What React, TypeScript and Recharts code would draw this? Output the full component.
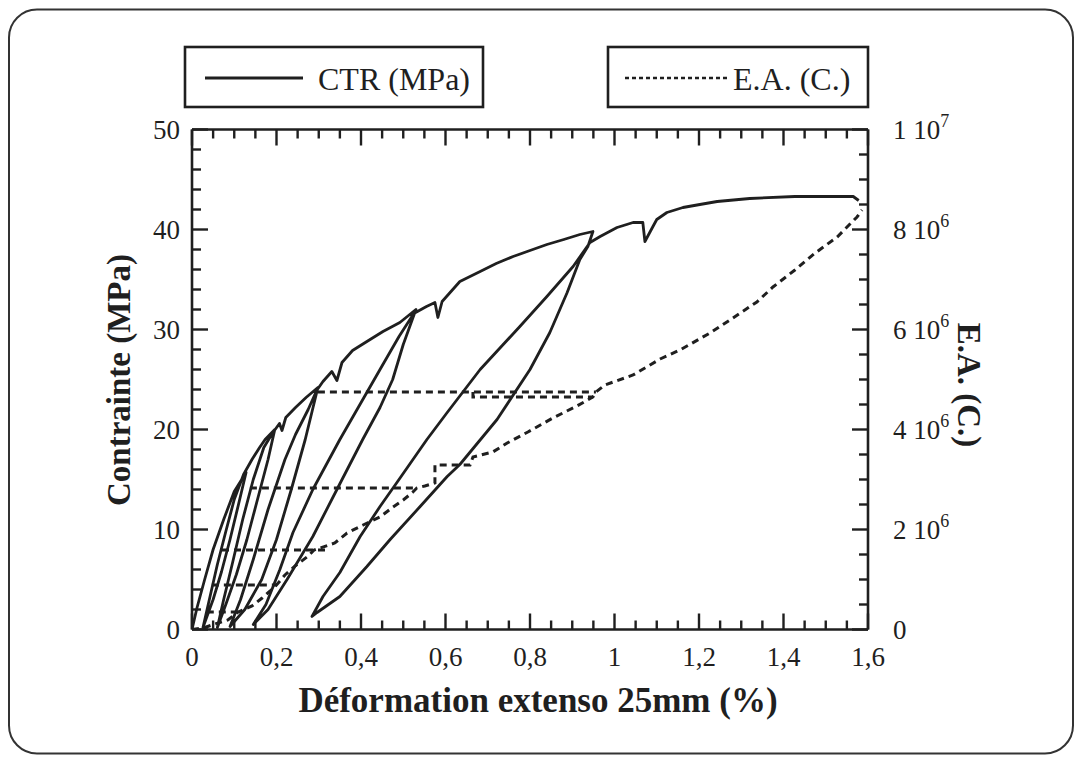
import React from 'react';
import { LineChart, Line, XAxis, YAxis, ReferenceLine } from 'recharts';

const FONT = '"Liberation Serif", "Times New Roman", serif';
const INK = '#1f1f1f';

// ---------- axis ticks ----------
const xTicks = [0, 0.05, 0.1, 0.15, 0.2, 0.25, 0.3, 0.35, 0.4, 0.45, 0.5, 0.55, 0.6, 0.65, 0.7, 0.75, 0.8, 0.85, 0.9, 0.95, 1, 1.05, 1.1, 1.15, 1.2, 1.25, 1.3, 1.35, 1.4, 1.45, 1.5, 1.55, 1.6];
const xMajorTicks = [0, 0.2, 0.4, 0.6, 0.8, 1, 1.2, 1.4, 1.6];
const xTickLabels = ['0', '0,2', '0,4', '0,6', '0,8', '1', '1,2', '1,4', '1,6'];

const yLeftTicks = [0, 2, 4, 6, 8, 10, 12, 14, 16, 18, 20, 22, 24, 26, 28, 30, 32, 34, 36, 38, 40, 42, 44, 46, 48, 50];
const yLeftMajorTicks = [0, 10, 20, 30, 40, 50];
const yLeftTickLabels = ['0', '10', '20', '30', '40', '50'];

const yRightTicks = [0, 5e5, 1e6, 1.5e6, 2e6, 2.5e6, 3e6, 3.5e6, 4e6, 4.5e6, 5e6, 5.5e6, 6e6, 6.5e6, 7e6, 7.5e6, 8e6, 8.5e6, 9e6, 9.5e6, 1e7];
const yRightMajorTicks = [0, 2e6, 4e6, 6e6, 8e6, 1e7];
const yRightMantissa = ['0', '2 10', '4 10', '6 10', '8 10', '1 10'];
const yRightExponent = ['', '6', '6', '6', '6', '7'];

// ---------- series: CTR (MPa) vs strain (%), in recording order ----------
const ctrLoad0 = [[0, 0], [0.012, 2.2], [0.03, 5], [0.05, 8], [0.075, 11], [0.1, 13.8], [0.128, 15.7]];
const ctrCycle0 = [[0.11, 12.5], [0.09, 9], [0.07, 5.8], [0.05, 3], [0.026, 0.2], [0.04, 2.8], [0.06, 6.5], [0.08, 9.8], [0.1, 13], [0.122, 15.5]];
const ctrLoad1 = [[0.142, 17], [0.16, 18.2], [0.173, 19], [0.196, 20]];
const ctrCycle1 = [[0.18, 17], [0.155, 13], [0.13, 9], [0.105, 5.5], [0.08, 2.5], [0.06, 0.2], [0.075, 3], [0.095, 6.5], [0.12, 11], [0.145, 15], [0.17, 18.2], [0.19, 19.6]];
const ctrLoad2 = [[0.207, 20.6], [0.213, 19.9], [0.222, 21.2], [0.245, 22.2], [0.27, 23.2], [0.298, 24.2]];
const ctrCycle2 = [[0.268, 19], [0.235, 14], [0.2, 9], [0.165, 5], [0.125, 2], [0.09, 0.3], [0.115, 3], [0.145, 7], [0.18, 12], [0.22, 17], [0.245, 19.5], [0.275, 22], [0.295, 23.9]];
const ctrLoad3 = [[0.31, 24.8], [0.331, 25.8], [0.343, 24.9], [0.355, 26.7], [0.38, 27.9], [0.414, 28.8], [0.452, 29.8], [0.492, 30.7], [0.53, 32]];
const ctrCycle3 = [[0.5, 28.5], [0.475, 25], [0.445, 22.2], [0.404, 19], [0.343, 14], [0.286, 9.3], [0.225, 5], [0.18, 2], [0.145, 0.5], [0.175, 2.5], [0.208, 6], [0.239, 9.7], [0.286, 14], [0.35, 19], [0.445, 26], [0.49, 29.3], [0.525, 31.6]];
const ctrLoad4 = [[0.555, 32.3], [0.575, 32.7], [0.582, 31.2], [0.592, 32.8], [0.634, 34.8], [0.682, 35.8], [0.72, 36.6], [0.76, 37.3], [0.8, 37.9], [0.84, 38.5], [0.88, 39], [0.918, 39.5], [0.949, 39.8]];
const ctrCycle4 = [[0.937, 38.3], [0.918, 37], [0.888, 33.7], [0.847, 29.7], [0.8, 26], [0.722, 21], [0.634, 16.5], [0.604, 15.3], [0.54, 12.3], [0.469, 9], [0.414, 6.3], [0.35, 3.3], [0.296, 1.7], [0.284, 1.3], [0.31, 3.3], [0.35, 5.7], [0.398, 9.3], [0.445, 12.3], [0.485, 14.7], [0.523, 17], [0.556, 19], [0.604, 21.7], [0.682, 26], [0.776, 30.3], [0.84, 33.3], [0.902, 36.3], [0.942, 38.7]];
const ctrLoad5 = [[0.966, 39.3], [1.006, 40.2], [1.044, 40.7], [1.067, 40.7], [1.072, 38.8], [1.091, 40.3], [1.1, 41], [1.124, 41.7], [1.162, 42.2], [1.202, 42.5], [1.243, 42.8], [1.32, 43.1], [1.427, 43.3], [1.565, 43.3], [1.578, 42.9]];

// ---------- series: E.A. cumulative counts vs strain ----------
const eaRise = [[0, 0], [0.03, 0.04e6], [0.054, 0.11e6], [0.085, 0.19e6], [0.109, 0.35e6], [0.142, 0.47e6], [0.166, 0.63e6], [0.185, 0.77e6], [0.2, 0.89e6], [0.22, 1.09e6], [0.244, 1.27e6], [0.275, 1.47e6], [0.289, 1.59e6], [0.338, 1.73e6], [0.367, 1.93e6], [0.405, 2.09e6], [0.445, 2.25e6], [0.476, 2.45e6], [0.5, 2.59e6], [0.523, 2.75e6], [0.532, 2.83e6], [0.551, 2.87e6], [0.575, 2.93e6], [0.575, 3.29e6], [0.658, 3.29e6], [0.665, 3.45e6], [0.712, 3.55e6], [0.746, 3.73e6], [0.795, 3.95e6], [0.854, 4.23e6], [0.911, 4.47e6], [0.949, 4.65e6], [0.956, 4.75e6], [0.977, 4.89e6], [1.044, 5.09e6], [1.108, 5.41e6], [1.155, 5.59e6], [1.226, 5.93e6], [1.273, 6.19e6], [1.337, 6.55e6], [1.375, 6.85e6], [1.427, 7.19e6], [1.475, 7.53e6], [1.527, 7.85e6], [1.574, 8.25e6], [1.586, 8.39e6]];
const eaPlateau0 = [[0.035, 0.35e6], [0.109, 0.35e6]];
const eaPlateau1 = [[0.047, 0.89e6], [0.2, 0.89e6]];
const eaPlateau2 = [[0.071, 1.59e6], [0.315, 1.59e6]];
const eaPlateau3 = [[0.137, 2.83e6], [0.532, 2.83e6]];
const eaPlateau4a = [[0.298, 4.75e6], [0.956, 4.75e6]];
const eaPlateau4b = [[0.665, 4.75e6], [0.665, 4.65e6], [0.949, 4.65e6]];

const seriesNames = ['CTR (MPa)', 'E.A. (C.)'];

const toPts = (arr: number[][]) => arr.map(([x, y]) => ({ x, y }));
const ctrData = toPts([...ctrLoad0, ...ctrCycle0, ...ctrLoad1, ...ctrCycle1, ...ctrLoad2, ...ctrCycle2, ...ctrLoad3, ...ctrCycle3, ...ctrLoad4, ...ctrCycle4, ...ctrLoad5]);
const eaSegments = [eaRise, eaPlateau0, eaPlateau1, eaPlateau2, eaPlateau3, eaPlateau4a, eaPlateau4b].map(toPts);

// ---------- layout ----------
const W = 1066;
const H = 747;
const TOP = 121.5;
const LEFT_W = 184;
const RIGHT_W = 206;
const BOTTOM_H = 125.5;
const PLOT_H = H - TOP - BOTTOM_H;
const MAJ = 16;
const MIN = 9;
const TICK_W = 2.4;
const EA_DASH = '7 5';

const findIdx = (list: number[], v: number) => list.findIndex((t) => Math.abs(t - v) <= 1e-6 * Math.max(1, Math.abs(t)));

function XTick(props: any) {
  const { x, y, payload } = props;
  const i = findIdx(xMajorTicks, payload.value);
  const len = i >= 0 ? MAJ : MIN;
  const top = y - PLOT_H;
  return (
    <g>
      <line x1={x} x2={x} y1={y} y2={y - len} stroke={INK} strokeWidth={TICK_W} />
      <line x1={x} x2={x} y1={top} y2={top + len} stroke={INK} strokeWidth={TICK_W} />
      {i >= 0 && (
        <text x={x} y={y + 36} textAnchor="middle" fontFamily={FONT} fontSize={27} fill={INK}>
          {xTickLabels[i]}
        </text>
      )}
    </g>
  );
}

function YLeftTick(props: any) {
  const { x, y, payload } = props;
  const i = findIdx(yLeftMajorTicks, payload.value);
  const len = i >= 0 ? MAJ : MIN;
  return (
    <g>
      <line x1={x} x2={x + len} y1={y} y2={y} stroke={INK} strokeWidth={TICK_W} />
      {i >= 0 && (
        <text x={x - 12} y={y + 9} textAnchor="end" fontFamily={FONT} fontSize={27} fill={INK}>
          {yLeftTickLabels[i]}
        </text>
      )}
    </g>
  );
}

function YRightTick(props: any) {
  const { x, y, payload } = props;
  const i = findIdx(yRightMajorTicks, payload.value);
  const len = i >= 0 ? MAJ : MIN;
  return (
    <g>
      <line x1={x} x2={x - len} y1={y} y2={y} stroke={INK} strokeWidth={TICK_W} />
      {i >= 0 && (
        <text x={x + 25} y={y + 9} textAnchor="start" fontFamily={FONT} fontSize={27} fill={INK}>
          <tspan>{yRightMantissa[i]}</tspan>
          {yRightExponent[i] && (
            <tspan dy={-12} fontSize={18}>
              {yRightExponent[i]}
            </tspan>
          )}
        </text>
      )}
    </g>
  );
}

export default function App() {
  return (
    <div style={{ position: 'relative', width: W, height: H }}>
      <LineChart width={W} height={H} margin={{ top: TOP, right: 0, bottom: 0, left: 0 }}>
        <XAxis
          xAxisId={0}
          type="number"
          dataKey="x"
          domain={[0, 1.6]}
          ticks={xTicks}
          interval={0}
          height={BOTTOM_H}
          tickLine={false}
          tickSize={0}
          tickMargin={0}
          tick={<XTick />}
          axisLine={{ stroke: INK, strokeWidth: 2.6 }}
          allowDataOverflow
        />
        <YAxis
          yAxisId="left"
          orientation="left"
          type="number"
          domain={[0, 50]}
          ticks={yLeftTicks}
          interval={0}
          width={LEFT_W}
          tickLine={false}
          tickSize={0}
          tickMargin={0}
          tick={<YLeftTick />}
          axisLine={{ stroke: INK, strokeWidth: 2.6 }}
          allowDataOverflow
        />
        <YAxis
          yAxisId="right"
          orientation="right"
          type="number"
          domain={[0, 1e7]}
          ticks={yRightTicks}
          interval={0}
          width={RIGHT_W}
          tickLine={false}
          tickSize={0}
          tickMargin={0}
          tick={<YRightTick />}
          axisLine={{ stroke: INK, strokeWidth: 2.6 }}
          allowDataOverflow
        />
        <ReferenceLine yAxisId="left" y={50} stroke={INK} strokeWidth={2.6} />
        {eaSegments.map((seg, k) => (
          <Line
            key={'ea' + k}
            yAxisId="right"
            data={seg}
            dataKey="y"
            type="linear"
            stroke={INK}
            strokeWidth={3}
            strokeDasharray={EA_DASH}
            dot={false}
            activeDot={false}
            isAnimationActive={false}
            name={seriesNames[1]}
          />
        ))}
        <Line
          yAxisId="left"
          data={ctrData}
          dataKey="y"
          type="linear"
          stroke={INK}
          strokeWidth={2.8}
          strokeLinejoin="round"
          dot={false}
          activeDot={false}
          isAnimationActive={false}
          name={seriesNames[0]}
        />
      </LineChart>
      <svg width={W} height={H} style={{ position: 'absolute', left: 0, top: 0, pointerEvents: 'none' }}>
        <rect x={1} y={1.5} width={1064} height={744} rx={28} ry={28} fill="none" stroke="#333" strokeWidth={2} />
        {/* legend */}
        <rect x={177} y={39} width={298} height={60} fill="none" stroke={INK} strokeWidth={2.6} />
        <line x1={197} x2={295} y1={70} y2={70} stroke={INK} strokeWidth={2.8} />
        <text x={310} y={82} fontFamily={FONT} fontSize={32} fill={INK}>{seriesNames[0]}</text>
        <rect x={600} y={39} width={260} height={60} fill="none" stroke={INK} strokeWidth={2.6} />
        <line x1={617} x2={719} y1={70} y2={70} stroke={INK} strokeWidth={2.6} strokeDasharray="4 3" />
        <text x={725} y={82} fontFamily={FONT} fontSize={32} fill={INK}>{seriesNames[1]}</text>
        {/* axis titles */}
        <text x={530} y={704} textAnchor="middle" fontFamily={FONT} fontWeight="bold" fontSize={35} fill={INK}>
          Déformation extenso 25mm (%)
        </text>
        <text transform="translate(122,372) rotate(-90)" textAnchor="middle" fontFamily={FONT} fontWeight="bold" fontSize={33} fill={INK}>
          Contrainte (MPa)
        </text>
        <text transform="translate(950,377) rotate(90)" textAnchor="middle" fontFamily={FONT} fontWeight="bold" fontSize={33} fill={INK}>
          E.A. (C.)
        </text>
      </svg>
    </div>
  );
}
